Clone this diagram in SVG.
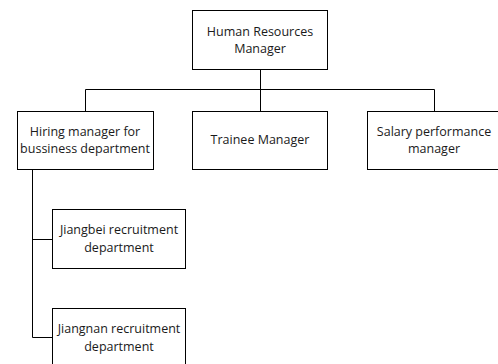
<svg xmlns="http://www.w3.org/2000/svg" width="498" height="364" viewBox="0 0 498 364">
<style>
.box{fill:#fff;stroke:#000;stroke-width:1}
.t{font-family:"Open Sans","Liberation Sans",Arial,sans-serif;font-size:12.5px;fill:#1a1a1a;text-anchor:middle}
.c{fill:none;stroke:#000;stroke-width:1}
</style>
<rect width="498" height="364" fill="#fff"/>
<g id="connectors">
<path class="c" d="M260.5 69V111M85.5 111V89.5H434.5V111"/>
<path class="c" d="M32.5 169V337.5H52M32.5 239.5H52"/>
</g>
<g id="hr">
<rect class="box" x="192.5" y="10.5" width="135" height="59"/>
<text class="t" x="260" y="36">Human Resources</text>
<text class="t" x="260" y="53">Manager</text>
</g>
<g id="hiring">
<rect class="box" x="17.5" y="111.5" width="136" height="58"/>
<text class="t" x="85" y="136">Hiring manager for</text>
<text class="t" x="85" y="153">bussiness department</text>
</g>
<g id="trainee">
<rect class="box" x="192.5" y="111.5" width="135" height="58"/>
<text class="t" x="260" y="144">Trainee Manager</text>
</g>
<g id="salary">
<rect class="box" x="367.5" y="111.5" width="134" height="58"/>
<text class="t" x="434" y="136">Salary performance</text>
<text class="t" x="434" y="153">manager</text>
</g>
<g id="jiangbei">
<rect class="box" x="52.5" y="209.5" width="133" height="59"/>
<text class="t" x="119" y="234">Jiangbei recruitment</text>
<text class="t" x="119" y="252">department</text>
</g>
<g id="jiangnan">
<rect class="box" x="52.5" y="308.5" width="133" height="59"/>
<text class="t" x="119" y="333">Jiangnan recruitment</text>
<text class="t" x="119" y="351">department</text>
</g>
</svg>
